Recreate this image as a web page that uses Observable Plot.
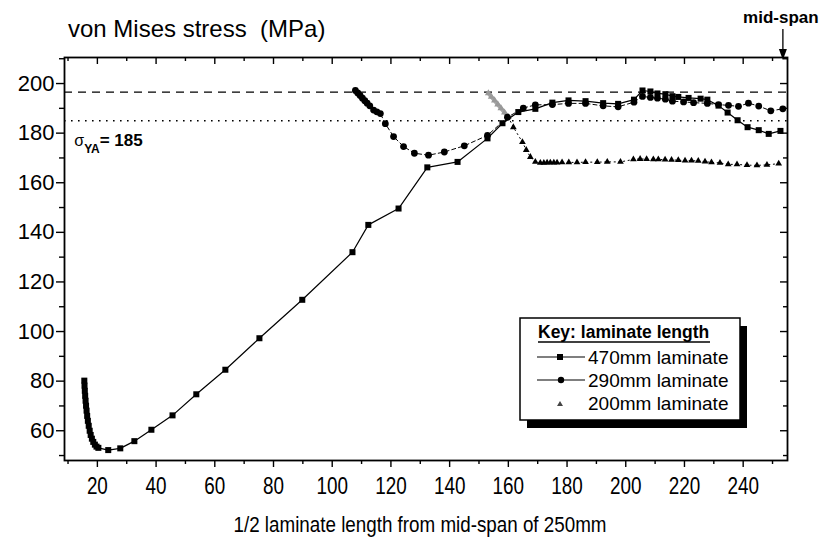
<!DOCTYPE html>
<html><head><meta charset="utf-8">
<script src="https://cdn.jsdelivr.net/npm/d3@7"></script>
<script src="https://cdn.jsdelivr.net/npm/@observablehq/plot@0.6"></script>
<style>body{margin:0;background:#fff}#chart{position:relative;width:825px;height:547px}</style>
</head><body><div id="chart"></div>
<script>
// ---- data ----
const x470 = [15.55,15.62,15.72,15.84,15.98,16.14,16.32,16.52,16.76,17.05,17.38,17.72,18.13,18.6,19.15,19.7,20.34,
  23.7,27.8,32.6,38.4,45.6,53.7,63.6,75.2,89.8,106.9,112.3,122.6,132.4,142.7,152.9,158.0,163.4,169.2,175.0,180.5,186.3,192.3,197.4,202.8,
  205.7,208.4,210.8,213.5,215.9,217.9,221.4,225.5,227.8,231.6,234.7,238.1,241.5,245.3,248.7,252.7];
const y470 = [80.2,78.2,76.1,74.1,72.1,70.1,68.1,66.0,64.0,62.0,60.0,58.3,56.8,55.5,54.4,53.6,53.1,
  52.2,52.9,55.8,60.4,66.2,74.7,84.6,97.3,112.8,132.0,143.0,149.6,166.2,168.4,177.9,184.0,188.5,189.8,192.3,193.2,192.9,192.1,191.8,193.5,
  197.2,196.8,196.0,195.7,194.9,194.6,194.2,193.9,193.5,191.1,188.3,185.2,182.4,181.2,179.7,180.9];

const x290 = [107.9,108.7,109.5,110.3,111.1,111.9,112.8,114.1,115.2,116.4,
  118.1,120.9,124.3,128.0,132.8,138.2,145.0,152.9,159.7,165.1,169.2,175.0,180.5,186.3,192.3,197.4,202.8,
  205.7,208.4,210.8,213.5,215.9,219.7,223.1,227.8,231.6,235.0,238.4,241.8,245.3,249.4,253.5];
const y290 = [197.2,196.2,195.2,194.1,193.1,192.1,191.0,189.3,188.6,187.9,
  183.8,178.6,174.6,171.9,171.1,172.4,174.9,179.1,186.4,190.1,191.4,191.5,192.0,192.0,191.0,190.6,192.5,
  194.8,194.4,194.1,193.7,192.9,192.6,192.3,192.0,191.5,191.2,190.8,192.1,190.9,189.0,189.8];

const x200grey = [153.2,154.2,155.3,156.4,157.5,158.7,160.0];
const y200grey = [196.1,194.7,193.2,191.6,190.0,188.3,186.5];
const x200 = [160.0,161.7,164.8,166.1,167.5,169.2,170.9,172.1,173.2,174.3,175.5,176.6,178.3,180.6,183.4,186.3,190.3,193.7,198.2,
  202.6,204.9,207.1,209.4,211.1,213.4,215.6,217.9,220.2,222.4,224.7,227.0,229.2,232.1,234.9,237.9,241.3,244.7,248.1,252.1];
const y200 = [186.5,182.4,176.4,173.2,170.4,168.4,168.0,168.0,168.1,168.1,168.1,168.1,168.2,168.2,168.2,168.3,168.3,168.4,168.4,
  169.4,169.6,169.5,169.4,169.4,169.3,169.2,169.1,168.9,168.9,168.8,168.5,168.2,168.0,167.4,167.4,167.1,167.0,167.2,167.7];

const dashedRef = 196.5;
const yieldRef = 185;

const xTicks = [20,40,60,80,100,120,140,160,180,200,220,240];
const xMinor = [10,30,50,70,90,110,130,150,170,190,210,230,250];
const yTicks = [60,80,100,120,140,160,180,200];
const yMinor = [50,70,90,110,130,150,170,190,210];

const seriesNames = ["470mm laminate","290mm laminate","200mm laminate"];

// ---- tables ----
const s470 = x470.map((x,i)=>({x, y:y470[i]}));
const s290 = x290.map((x,i)=>({x, y:y290[i]}));
const s200 = x200.map((x,i)=>({x, y:y200[i]}));
const s200g = x200grey.map((x,i)=>({x, y:y200grey[i]}));

const W=825, H=547, mL=64, mR=38, mT=57, mB=87;
const plotW = W-mL-mR, plotH = H-mT-mB;
const FONT = "'Liberation Sans', Arial, Helvetica, sans-serif";

const chart = Plot.plot({
  width:W, height:H, marginLeft:mL, marginRight:mR, marginTop:mT, marginBottom:mB,
  style:{fontFamily:FONT, background:"white", color:"black", overflow:"visible"},
  x:{domain:[8.8,255.1]},
  y:{domain:[48,210.5]},
  marks:[
    Plot.ruleY([dashedRef], {stroke:"black", strokeWidth:1.2, strokeDasharray:"8,6"}),
    Plot.ruleY([yieldRef], {stroke:"black", strokeWidth:1.6, strokeDasharray:"1.6,5.4"}),
    Plot.axisX(xTicks, {anchor:"bottom", tickSize:7, tickPadding:10, fontSize:23, label:null, strokeWidth:1.4}),
    Plot.axisX(xMinor, {anchor:"bottom", tickSize:4, tickFormat:()=>"", label:null, strokeWidth:1.4}),
    Plot.tickX(xTicks, {x:d=>d, insetBottom:plotH-7, stroke:"black", strokeWidth:1.4}),
    Plot.tickX(xMinor, {x:d=>d, insetBottom:plotH-4, stroke:"black", strokeWidth:1.4}),
    Plot.axisY(yTicks, {anchor:"left", tickSize:8, tickPadding:2, fontSize:22, label:null, strokeWidth:1.4}),
    Plot.axisY(yMinor, {anchor:"left", tickSize:5, tickFormat:()=>"", label:null, strokeWidth:1.4}),
    Plot.tickY(yTicks, {y:d=>d, insetLeft:plotW-7, stroke:"black", strokeWidth:1.4}),
    Plot.tickY(yMinor, {y:d=>d, insetLeft:plotW-4, stroke:"black", strokeWidth:1.4}),
    // 200mm
    Plot.line(s200g, {x:"x", y:"y", stroke:"#aaa", strokeWidth:4}),
    Plot.dot(s200g, {x:"x", y:"y", symbol:"triangle", r:2.6, fill:"#999"}),
    Plot.line(s200, {x:"x", y:"y", stroke:"black", strokeWidth:1, strokeDasharray:"1.2,3.5"}),
    Plot.dot(s200.slice(1), {x:"x", y:"y", symbol:"triangle", r:2.5, fill:"black"}),
    // 290mm
    Plot.line(s290, {x:"x", y:"y", stroke:"black", strokeWidth:1, strokeDasharray:"4,3"}),
    Plot.dot(s290, {x:"x", y:"y", symbol:"circle", r:3.4, fill:"black"}),
    // 470mm
    Plot.line(s470, {x:"x", y:"y", stroke:"black", strokeWidth:1.2}),
    Plot.dot(s470, {x:"x", y:"y", symbol:"square", r:3.4, fill:"black"}),
    Plot.frame({stroke:"black", strokeWidth:1.8})
  ]
});
document.getElementById("chart").appendChild(chart);

const svg = d3.select(chart);
// condensed x tick labels like the reference
svg.selectAll('g[aria-label="x-axis tick label"] text').each(function(){
  const t = this.textContent;
  if (t) d3.select(this).attr("textLength", t.length*10.5).attr("lengthAdjust","spacingAndGlyphs");
});

const sx = chart.scale("x"), sy = chart.scale("y");
// y title
svg.append("text").attr("x",68).attr("y",37).attr("font-size",24).attr("fill","black").attr("text-anchor","start")
  .attr("font-family",FONT).attr("xml:space","preserve").text("von Mises stress  (MPa)");
// x title
svg.append("text").attr("x",420).attr("y",532).attr("text-anchor","middle").attr("font-size",22)
  .attr("font-family",FONT).attr("textLength",373).attr("lengthAdjust","spacingAndGlyphs")
  .text("1/2 laminate length from mid-span of 250mm");
// mid-span annotation
const msx = sx.apply(253.7);
svg.append("text").attr("x",msx-2).attr("y",23).attr("text-anchor","middle").attr("font-size",17)
  .attr("font-weight","bold").attr("font-family",FONT).text("mid-span");
svg.append("line").attr("x1",msx).attr("x2",msx).attr("y1",29).attr("y2",52).attr("stroke","black").attr("stroke-width",1.3);
svg.append("path").attr("d",`M${msx-4},49L${msx+4},49L${msx},60Z`).attr("fill","black");
// sigma_YA label
const sg = svg.append("text").attr("x",sx.apply(12.3)).attr("y",sy.apply(174.5)).attr("text-anchor","start")
  .attr("font-family",FONT).attr("fill","black");
sg.append("tspan").attr("font-size",16).text("σ");
sg.append("tspan").attr("font-size",12).attr("font-weight","bold").attr("dy",7).text("YA");
sg.append("tspan").attr("font-size",17).attr("font-weight","bold").attr("dy",-7).text("= 185");

// key box
const g = svg.append("g").attr("font-family",FONT).attr("text-anchor","start");
g.append("rect").attr("x",527).attr("y",326).attr("width",220).attr("height",102).attr("fill","black");
g.append("rect").attr("x",520).attr("y",318).attr("width",220).attr("height",102).attr("fill","white").attr("stroke","black").attr("stroke-width",1.5);
g.append("text").attr("x",538).attr("y",338).attr("font-size",17.5).attr("font-weight","bold").text("Key: laminate length");
g.append("line").attr("x1",538).attr("x2",710).attr("y1",342).attr("y2",342).attr("stroke","black").attr("stroke-width",1.5);
const rows = [357,380,403];
rows.forEach((ry,i)=>{
  if (i<2) g.append("line").attr("x1",537).attr("x2",585).attr("y1",ry).attr("y2",ry).attr("stroke","black").attr("stroke-width",1.2);
  if (i===0) g.append("rect").attr("x",557).attr("y",ry-3).attr("width",6).attr("height",6).attr("fill","black");
  if (i===1) g.append("circle").attr("cx",561).attr("cy",ry).attr("r",3.2).attr("fill","black");
  if (i===2) g.append("path").attr("d",`M557,${ry+3}L563,${ry+3}L560,${ry-2}Z`).attr("fill","#444");
  g.append("text").attr("x",588).attr("y",ry+7).attr("font-size",19).text(seriesNames[i]);
});
</script></body></html>
